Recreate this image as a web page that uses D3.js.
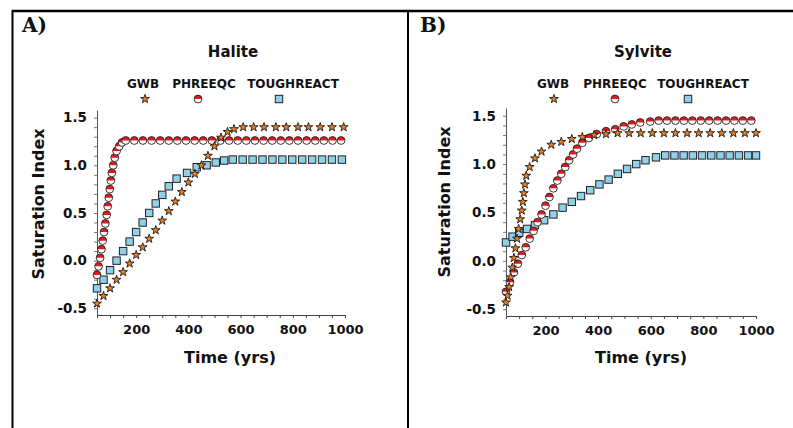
<!DOCTYPE html>
<html>
<head>
<meta charset="utf-8">
<script src="https://cdn.jsdelivr.net/npm/d3@7"></script>
<style>
  body { margin: 0; background: #fff; }
  text { font-family: "DejaVu Sans", "Liberation Sans", sans-serif; font-weight: bold; fill: #111; }
</style>
</head>
<body>
<svg id="chart"></svg>
<script>
//constants
const W = 793;
const H = 428;

//tick labels and legend
const xTickLabels = [200, 400, 600, 800, 1000];
const yTickLabels = [-0.5, 0.0, 0.5, 1.0, 1.5];
const legendNames = ["GWB", "PHREEQC", "TOUGHREACT"];

//A) halite - GWB (stars)
const gwbA_t = [50, 75, 100, 125, 150, 175, 200, 225, 250, 275, 300, 325, 350, 375, 400, 425, 450, 475, 500, 525, 550, 575, 610, 650, 690, 735, 775, 820, 860, 905, 950, 995];
const gwbA_si = [-0.45, -0.37, -0.29, -0.20, -0.12, -0.03, 0.06, 0.14, 0.23, 0.32, 0.42, 0.52, 0.62, 0.72, 0.82, 0.91, 1.00, 1.10, 1.20, 1.29, 1.35, 1.38, 1.40, 1.40, 1.40, 1.40, 1.40, 1.40, 1.40, 1.40, 1.40, 1.40];

//A) halite - PHREEQC (circles)
const phrA_t = [50, 56, 62, 67, 72, 77, 82, 87, 91, 95, 99, 103, 107, 112, 118, 125, 135, 146, 160, 193, 226, 259, 292, 325, 358, 391, 424, 457, 490, 523, 556, 589, 622, 655, 688, 721, 754, 787, 820, 853, 886, 919, 952, 985];
const phrA_si = [-0.15, -0.06, 0.03, 0.12, 0.21, 0.30, 0.39, 0.48, 0.57, 0.66, 0.75, 0.84, 0.92, 1.00, 1.08, 1.15, 1.20, 1.24, 1.26, 1.26, 1.26, 1.26, 1.26, 1.26, 1.26, 1.26, 1.26, 1.26, 1.26, 1.26, 1.26, 1.26, 1.26, 1.26, 1.26, 1.26, 1.26, 1.26, 1.26, 1.26, 1.26, 1.26, 1.26, 1.26];

//A) halite - TOUGHREACT (squares)
const trA_t = [50, 75, 100, 125, 150, 175, 200, 225, 250, 275, 300, 325, 355, 395, 432, 470, 505, 537, 570, 608, 646, 684, 722, 760, 798, 836, 874, 912, 950, 988];
const trA_si = [-0.29, -0.20, -0.10, 0.00, 0.10, 0.20, 0.30, 0.40, 0.50, 0.60, 0.69, 0.78, 0.86, 0.92, 0.98, 1.00, 1.03, 1.05, 1.06, 1.06, 1.06, 1.06, 1.06, 1.06, 1.06, 1.06, 1.06, 1.06, 1.06, 1.06];

//B) sylvite - GWB (stars)
const gwbB_t = [50, 56, 62, 68, 74, 80, 86, 92, 98, 104, 110, 114, 118, 122, 127, 140, 160, 185, 222, 260, 300, 340, 385, 430, 474, 518, 562, 606, 650, 694, 738, 782, 826, 870, 914, 958, 1000];
const gwbB_si = [-0.43, -0.36, -0.27, -0.17, -0.07, 0.03, 0.13, 0.23, 0.33, 0.43, 0.52, 0.61, 0.70, 0.79, 0.88, 0.97, 1.06, 1.13, 1.20, 1.23, 1.26, 1.28, 1.30, 1.31, 1.32, 1.32, 1.32, 1.32, 1.32, 1.32, 1.32, 1.32, 1.32, 1.32, 1.32, 1.32, 1.32];

//B) sylvite - PHREEQC (circles)
const phrB_t = [50, 65, 80, 95, 110, 125, 140, 155, 170, 185, 200, 215, 230, 245, 260, 275, 290, 305, 320, 340, 365, 395, 430, 465, 497, 528, 560, 598, 630, 662, 694, 726, 758, 790, 822, 854, 886, 918, 950, 982];
const phrB_si = [-0.32, -0.22, -0.12, -0.03, 0.06, 0.14, 0.23, 0.31, 0.40, 0.48, 0.57, 0.66, 0.75, 0.83, 0.90, 0.97, 1.04, 1.10, 1.16, 1.22, 1.27, 1.31, 1.34, 1.36, 1.39, 1.41, 1.43, 1.44, 1.45, 1.45, 1.45, 1.45, 1.45, 1.45, 1.45, 1.45, 1.45, 1.45, 1.45, 1.45];

//B) sylvite - TOUGHREACT (squares)
const trB_t = [50, 75, 100, 130, 160, 195, 230, 265, 300, 335, 370, 405, 440, 475, 510, 545, 580, 620, 655, 690, 725, 760, 795, 830, 865, 900, 935, 970, 1000];
const trB_si = [0.19, 0.25, 0.29, 0.33, 0.37, 0.42, 0.48, 0.55, 0.61, 0.67, 0.73, 0.79, 0.84, 0.90, 0.95, 1.00, 1.04, 1.07, 1.09, 1.09, 1.09, 1.09, 1.09, 1.09, 1.09, 1.09, 1.09, 1.09, 1.09];

//colours
const starFill = "#f07d1c";
const circleTop = "#e3191c";
const squareFill = "#8fd1ea";

const panels = [
    {tag: "A)", title: "Halite", left: 97, right: 345, bottom: 315, top: 110,
     tagX: 22, titleX: 233, legendX: [143, 204, 293], markerX: [145, 198, 279],
     yTitleX: 44, yTitleY: 204, xTitleX: 230,
     gwb: [gwbA_t, gwbA_si], phr: [phrA_t, phrA_si], tr: [trA_t, trA_si]},
    {tag: "B)", title: "Sylvite", left: 506, right: 756, bottom: 316, top: 108,
     tagX: 420, titleX: 643, legendX: [553, 615, 703], markerX: [554, 615, 688],
     yTitleX: 450, yTitleY: 202, xTitleX: 641,
     gwb: [gwbB_t, gwbB_si], phr: [phrB_t, phrB_si], tr: [trB_t, trB_si]}
];

const svg = d3.select("#chart")
    .attr("width", W)
    .attr("height", H)
    .style("background-color", "#fff");

//frame
svg.append("line").attr("x1", 12).attr("x2", W).attr("y1", 11).attr("y2", 11)
    .attr("stroke", "#000").attr("stroke-width", 2.5);
svg.append("line").attr("x1", 12.5).attr("x2", 12.5).attr("y1", 10).attr("y2", H)
    .attr("stroke", "#000").attr("stroke-width", 2);
svg.append("line").attr("x1", 408).attr("x2", 408).attr("y1", 10).attr("y2", H)
    .attr("stroke", "#000").attr("stroke-width", 2);

const star = d3.symbol().type(d3.symbolStar).size(24);
const topHalf = d3.arc()({innerRadius: 0, outerRadius: 3.9, startAngle: -Math.PI / 2, endAngle: Math.PI / 2});

function drawStar(sel) {
    sel.append("path")
        .attr("d", star)
        .attr("fill", starFill)
        .attr("stroke", "#1a1a1a")
        .attr("stroke-width", 0.9);
}

function drawCircle(sel) {
    sel.append("circle")
        .attr("r", 3.9)
        .attr("fill", "#fff");
    sel.append("path")
        .attr("d", topHalf)
        .attr("fill", circleTop);
    sel.append("circle")
        .attr("r", 3.9)
        .attr("fill", "none")
        .attr("stroke", "#222")
        .attr("stroke-width", 0.9);
}

function drawSquare(sel) {
    sel.append("rect")
        .attr("x", -3.7).attr("y", -3.7)
        .attr("width", 7.4).attr("height", 7.4)
        .attr("fill", squareFill)
        .attr("stroke", "#222")
        .attr("stroke-width", 1);
}

function drawPanel(p) {
    //scales
    const x = d3.scaleLinear().domain([50, 1000]).range([p.left, p.right]);
    const y = d3.scaleLinear().domain([-0.57, 1.58]).range([p.bottom, p.top]);

    //tag + title
    svg.append("text")
        .attr("x", p.tagX).attr("y", 32)
        .style("font-family", "'DejaVu Serif', 'Liberation Serif', serif")
        .style("font-size", "20px")
        .text(p.tag);

    svg.append("text")
        .attr("x", p.titleX).attr("y", 57)
        .attr("text-anchor", "middle")
        .style("font-size", "15px")
        .text(p.title);

    //legend
    legendNames.forEach((name, i) => {
        svg.append("text")
            .attr("x", p.legendX[i]).attr("y", 88)
            .attr("text-anchor", "middle")
            .style("font-size", "12px")
            .text(name);
        const g = svg.append("g").attr("transform", "translate(" + p.markerX[i] + ",99)");
        if (i === 0) drawStar(g);
        if (i === 1) drawCircle(g);
        if (i === 2) drawSquare(g);
    });

    //axes (minor ticks)
    svg.append("g")
        .attr("transform", "translate(0," + p.bottom + ")")
        .call(d3.axisBottom(x).tickValues(d3.range(50, 1001, 50)).tickSize(3).tickFormat("").tickSizeOuter(0))
        .call(g => g.selectAll("line").attr("stroke", "#444"))
        .call(g => g.select(".domain").attr("stroke", "#444"));

    svg.append("g")
        .attr("transform", "translate(" + p.left + ",0)")
        .call(d3.axisLeft(y).tickValues(d3.range(-0.5, 1.55, 0.1)).tickSize(3).tickFormat("").tickSizeOuter(0))
        .call(g => g.selectAll("line").attr("stroke", "#777"))
        .call(g => g.select(".domain").attr("stroke", "#555"));

    //axes (labels)
    svg.append("g")
        .attr("transform", "translate(0," + p.bottom + ")")
        .call(d3.axisBottom(x).tickValues(xTickLabels).tickSize(0).tickPadding(10).tickFormat(d => String(d)))
        .call(g => g.select(".domain").remove())
        .call(g => g.selectAll("text").style("font-size", "13px").style("font-family", "'DejaVu Sans', sans-serif").attr("fill", "#111"));

    svg.append("g")
        .attr("transform", "translate(" + p.left + ",0)")
        .call(d3.axisLeft(y).tickValues(yTickLabels).tickSize(0).tickPadding(10).tickFormat(d => d.toFixed(1)))
        .call(g => g.select(".domain").remove())
        .call(g => g.selectAll("text").style("font-size", "13.5px").style("font-family", "'DejaVu Sans', sans-serif").attr("fill", "#111"));

    //axes labels
    svg.append("text")
        .attr("transform", "translate(" + p.yTitleX + "," + p.yTitleY + ") rotate(-90)")
        .attr("text-anchor", "middle")
        .style("font-size", "16px")
        .text("Saturation Index");

    svg.append("text")
        .attr("x", p.xTitleX).attr("y", 363)
        .attr("text-anchor", "middle")
        .style("font-size", "16px")
        .text("Time (yrs)");

    //points
    const pts = (s) => s[0].map((t, i) => ({t: t, si: s[1][i]}));

    svg.append("g").selectAll("g")
        .data(pts(p.tr)).enter().append("g")
        .attr("transform", d => "translate(" + x(d.t) + "," + y(d.si) + ")")
        .each(function() { drawSquare(d3.select(this)); });

    svg.append("g").selectAll("g")
        .data(pts(p.phr)).enter().append("g")
        .attr("transform", d => "translate(" + x(d.t) + "," + y(d.si) + ")")
        .each(function() { drawCircle(d3.select(this)); });

    svg.append("g").selectAll("g")
        .data(pts(p.gwb)).enter().append("g")
        .attr("transform", d => "translate(" + x(d.t) + "," + y(d.si) + ")")
        .each(function() { drawStar(d3.select(this)); });
}

panels.forEach(drawPanel);
</script>
</body>
</html>
